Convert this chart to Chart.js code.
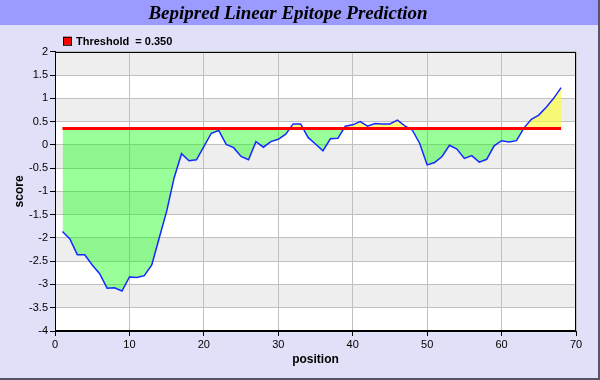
<!DOCTYPE html>
<html>
<head>
<meta charset="utf-8">
<script src="https://cdn.jsdelivr.net/npm/chart.js@4/dist/chart.umd.min.js"></script>
<style>
  html, body { margin: 0; padding: 0; background: #e0e0f8; }
  canvas { display: block; }
</style>
</head>
<body>
<canvas id="chart" width="600" height="380"></canvas>
<script>
// residue positions
const positions = [
  1, 2, 3, 4, 5, 6, 7, 8, 9, 10, 11, 12, 13, 14, 15, 16, 17,
  18, 19, 20, 21, 22, 23, 24, 25, 26, 27, 28, 29, 30, 31, 32, 33, 34,
  35, 36, 37, 38, 39, 40, 41, 42, 43, 44, 45, 46, 47, 48, 49, 50, 51,
  52, 53, 54, 55, 56, 57, 58, 59, 60, 61, 62, 63, 64, 65, 66, 67, 68
];

// bepipred score per position
const scores = [
  -1.86, -2.02, -2.36, -2.36, -2.58, -2.77, -3.08, -3.07, -3.14, -2.84, -2.85, -2.81, -2.58, -2.00, -1.43, -0.71, -0.19,
  -0.34, -0.32, -0.04, 0.25, 0.31, 0.01, -0.06, -0.25, -0.32, 0.07, -0.05, 0.07, 0.12, 0.23, 0.45, 0.45, 0.16,
  0.02, -0.13, 0.13, 0.14, 0.40, 0.43, 0.50, 0.40, 0.46, 0.45, 0.45, 0.53, 0.41, 0.32, 0.03, -0.43, -0.38,
  -0.25, -0.01, -0.09, -0.29, -0.23, -0.37, -0.31, -0.02, 0.09, 0.06, 0.09, 0.36, 0.55, 0.64, 0.81, 1.00, 1.23
];

const threshold = 0.35;
const thresholdLabel = 'Threshold  = 0.350';
const xRange = [0, 70];
const yRange = [-4, 2];

const sans = '"Liberation Sans", Arial, sans-serif';

// background, title bar, banded plot area, legend and plot frame
const backdrop = {
  id: 'backdrop',
  beforeDraw(chart) {
    const ctx = chart.ctx;
    const area = chart.chartArea;
    ctx.save();
    ctx.fillStyle = '#e0e0f8';
    ctx.fillRect(0, 0, chart.width, chart.height);
    ctx.fillStyle = '#9b9bff';
    ctx.fillRect(0, 0, chart.width, 25);
    // outer frame
    ctx.fillStyle = '#555566';
    ctx.fillRect(chart.width - 2, 0, 2, chart.height);
    ctx.fillRect(0, chart.height - 2, chart.width, 2);
    // bands
    const ys = chart.scales.y;
    const ticks = ys.ticks;
    ctx.fillStyle = '#ffffff';
    ctx.fillRect(area.left, area.top, area.width, area.height);
    for (let i = 0; i < ticks.length - 1; i++) {
      if (i % 2 === 1) {
        const y1 = ys.getPixelForValue(ticks[i + 1].value);
        const y0 = ys.getPixelForValue(ticks[i].value);
        ctx.fillStyle = '#eeeeee';
        ctx.fillRect(area.left, y1, area.width, y0 - y1);
      }
    }
    // legend entry for the threshold
    const lx = area.left + 8, ly = area.top - 11;
    ctx.fillStyle = '#ff0000';
    ctx.fillRect(lx, ly - 4, 8, 8);
    ctx.strokeStyle = '#000';
    ctx.lineWidth = 1;
    ctx.strokeRect(lx + 0.5, ly - 3.5, 8, 8);
    ctx.fillStyle = '#000';
    ctx.font = 'bold 11px ' + sans;
    ctx.textBaseline = 'middle';
    ctx.fillText(chart.data.datasets[0].label, lx + 13, ly + 1);
    ctx.restore();
  },
  afterDraw(chart) {
    const ctx = chart.ctx;
    const a = chart.chartArea;
    ctx.save();
    ctx.strokeStyle = '#000';
    ctx.lineWidth = 1;
    ctx.strokeRect(Math.round(a.left) + 0.5, Math.round(a.top) + 0.5,
      Math.round(a.width) - 1, Math.round(a.height) - 1);
    ctx.restore();
  }
};

const points = positions.map((p, i) => ({ x: p, y: scores[i] }));
const thresholdLine = [
  { x: positions[0], y: threshold },
  { x: positions[positions.length - 1], y: threshold }
];

new Chart(document.getElementById('chart'), {
  type: 'line',
  data: {
    datasets: [
      {
        label: thresholdLabel,
        data: thresholdLine,
        borderColor: '#ff0000',
        backgroundColor: '#ff0000',
        borderWidth: 3,
        pointRadius: 0,
        fill: false,
        order: 0
      },
      {
        label: 'score',
        data: points,
        borderColor: '#1428ff',
        borderWidth: 1.5,
        pointRadius: 0,
        tension: 0,
        fill: {
          target: { value: threshold },
          above: 'rgba(255, 255, 40, 0.6)',
          below: 'rgba(0, 255, 0, 0.4)'
        },
        order: 1
      }
    ]
  },
  options: {
    responsive: false,
    animation: false,
    layout: { padding: { left: 0, right: 24, top: 0, bottom: 13 } },
    plugins: {
      title: {
        display: true,
        text: 'Bepipred Linear Epitope Prediction',
        color: '#000',
        font: { family: '"Liberation Serif", serif', size: 19, style: 'italic', weight: 'bold' },
        padding: { top: 3, bottom: 26 }
      },
      legend: { display: false },
      tooltip: { enabled: false }
    },
    scales: {
      x: {
        type: 'linear',
        min: xRange[0],
        max: xRange[1],
        ticks: {
          stepSize: 10,
          color: '#000',
          padding: 2,
          font: { family: sans, size: 11 }
        },
        grid: { color: '#c0c0c0', tickColor: '#000', tickLength: 5 },
        border: { color: '#000', width: 1 },
        title: {
          display: true,
          text: 'position',
          color: '#000',
          padding: { top: 2, bottom: 0 },
          font: { family: sans, size: 12, weight: 'bold' }
        },
        afterFit: s => { s.height = 36; }
      },
      y: {
        min: yRange[0],
        max: yRange[1],
        ticks: {
          stepSize: 0.5,
          color: '#000',
          padding: 2,
          font: { family: sans, size: 11 },
          callback: v => String(Math.round(v * 10) / 10)
        },
        grid: { color: '#c0c0c0', tickColor: '#000', tickLength: 5 },
        border: { color: '#000', width: 1 },
        title: {
          display: true,
          text: 'score',
          color: '#000',
          padding: { top: 12, bottom: 0 },
          font: { family: sans, size: 12, weight: 'bold' }
        },
        afterFit: s => { s.width = 55; }
      }
    }
  },
  plugins: [backdrop]
});
</script>
</body>
</html>
